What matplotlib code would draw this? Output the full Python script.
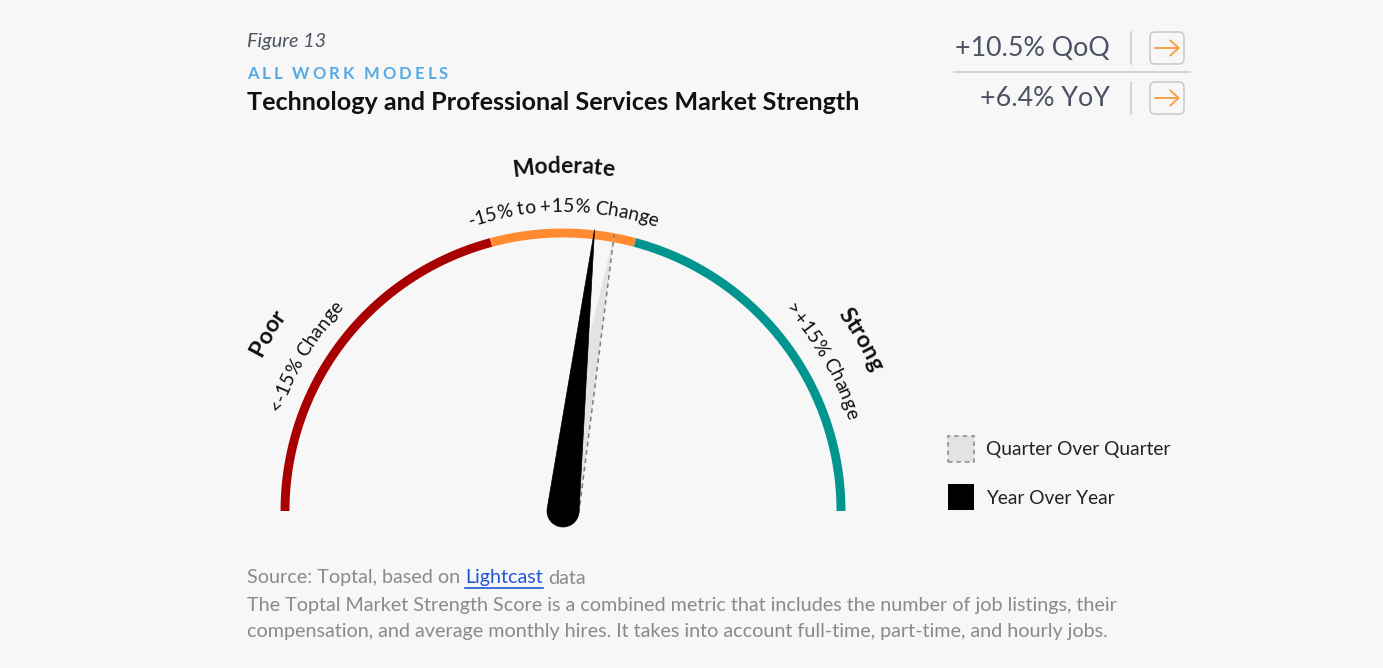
import numpy as np
import matplotlib
matplotlib.use("Agg")
import matplotlib.pyplot as plt
from matplotlib.patches import Polygon, FancyBboxPatch, Rectangle
from matplotlib.font_manager import FontProperties, findfont, get_font
from matplotlib.ft2font import LoadFlags

W, H = 1383, 668
FONT = "Lato"
BG = "#f7f7f7"

# gauge scale in percent change, and its three bands
GAUGE_MIN, GAUGE_MAX = -90, 90
BAND_EDGES = [-90, -15, 15, 90]
BAND_COLORS = ["#a80000", "#ff8a30", "#00958e"]
BAND_NAMES = ["Poor", "Moderate", "Strong"]
BAND_RANGES = ["<-15% Change", "-15% to +15% Change", ">+15% Change"]

QOQ = 10.5
YOY = 6.4
LEGEND_LABELS = ["Quarter Over Quarter", "Year Over Year"]

fig = plt.figure(figsize=(W / 100, H / 100), dpi=100, facecolor=BG)
ax = fig.add_axes([0, 0, 1, 1])
ax.set_xlim(0, W)
ax.set_ylim(0, H)
ax.set_facecolor(BG)
ax.axis("off")


def Y(y):
    # layout positions measured from the top edge
    return H - y


def advances(s, fp):
    """Left edge of each glyph (pixels) and the total advance width."""
    font = get_font(findfont(fp))
    font.set_size(fp.get_size_in_points(), 100)
    xs, x = [], 0.0
    for ch in s:
        xs.append(x)
        g = font.load_char(ord(ch), flags=LoadFlags.NO_HINTING)
        x += g.linearHoriAdvance / 65536
    return xs, x


def val_to_deg(v):
    return 180 - (v - GAUGE_MIN) / (GAUGE_MAX - GAUGE_MIN) * 180


CX, CY = 563, Y(511)
R_ARC = 278


def curved_text(s, radius, mid_deg, size, weight="normal", color="#111111"):
    fp = FontProperties(family=FONT, size=size, weight=weight)
    xs, total = advances(s, fp)
    xs = xs + [total]
    for i, ch in enumerate(s):
        if ch == " ":
            continue
        c = (xs[i] + xs[i + 1]) / 2 - total / 2
        th = np.radians(mid_deg) - c / radius
        ax.text(CX + radius * np.cos(th), CY + radius * np.sin(th), ch,
                fontproperties=fp, color=color, rotation=np.degrees(th) - 90,
                rotation_mode="anchor", ha="center", va="baseline")


def needle_poly(value, length, base_r):
    phi = np.radians(val_to_deg(value))
    tip = (CX + length * np.cos(phi), CY + length * np.sin(phi))
    a = np.arccos(base_r / length)
    back = np.linspace(phi + a, phi + 2 * np.pi - a, 60)
    pts = [tip] + [(CX + base_r * np.cos(t), CY + base_r * np.sin(t)) for t in back]
    right_tan = (CX + base_r * np.cos(phi - a), CY + base_r * np.sin(phi - a))
    return np.array(pts), tip, right_tan


# ── gauge bands ────────────────────────────────────────────────────────────
for lo, hi, col in zip(BAND_EDGES[:-1], BAND_EDGES[1:], BAND_COLORS):
    t = np.radians(np.linspace(val_to_deg(lo), val_to_deg(hi), 200))
    ax.plot(CX + R_ARC * np.cos(t), CY + R_ARC * np.sin(t), color=col,
            lw=6.4, solid_capstyle="butt", zorder=2)

# band labels along the arc
for name, rng, ang in zip(BAND_NAMES, BAND_RANGES, [149, 90, 30]):
    curved_text(name, 338, ang, 16.5, weight="bold", color="#111111")
    curved_text(rng, 299, ang, 13.8, color="#111111")

# ── needles ───────────────────────────────────────────────────────────────
pts, tip, rt = needle_poly(QOQ, 281, 16)
ax.add_patch(Polygon(pts, closed=True, facecolor="#e3e3e3", edgecolor="none", zorder=3))
ax.plot([rt[0], tip[0]], [rt[1], tip[1]], color="#7d7d7d", lw=1.1,
        dashes=(3, 2.5), zorder=3.5)

pts, tip, rt = needle_poly(YOY, 283, 16)
ax.add_patch(Polygon(pts, closed=True, facecolor="black", edgecolor="black",
                     lw=0.5, zorder=4))

# ── legend ────────────────────────────────────────────────────────────────
ax.add_patch(Rectangle((948, Y(462)), 26, 26, facecolor="#e3e3e3",
                       edgecolor="#8a8a8a", lw=1.1, linestyle=(0, (3, 2.5)), zorder=3))
ax.add_patch(Rectangle((948, Y(510)), 26, 26, facecolor="black", edgecolor="none", zorder=3))
for lab, yy in zip(LEGEND_LABELS, [450, 498]):
    ax.text(986, Y(yy), lab, family=FONT, fontsize=13.8, color="#222222",
            ha="left", va="center")

# ── header ────────────────────────────────────────────────────────────────
ax.text(247, Y(41), "Figure 13", family=FONT, style="italic", fontsize=14.3,
        color="#4d5563", ha="left", va="center")

fp_kick = FontProperties(family=FONT, size=12, weight="bold")
kicker = "ALL WORK MODELS"
kx, _ = advances(kicker, fp_kick)
for i, ch in enumerate(kicker):
    if ch != " ":
        ax.text(247 + kx[i] + i * 3.0, Y(74), ch, fontproperties=fp_kick,
                color="#55aae6", ha="left", va="center")

ax.text(247, Y(103), "Technology and Professional Services Market Strength",
        family=FONT, weight="bold", fontsize=18.1, color="#111111",
        ha="left", va="center")

# change summary, top right
for lab, yy in zip([f"+{QOQ}% QoQ", f"+{YOY}% YoY"], [48, 98]):
    ax.text(1110, Y(yy), lab, family=FONT, fontsize=19.3, color="#4b5263",
            ha="right", va="center")
    ax.plot([1131, 1131], [Y(yy - 16), Y(yy + 16)], color="#c9ccd2", lw=1.2)
    ax.add_patch(FancyBboxPatch((1153, Y(yy + 13)), 28, 26,
                                boxstyle="round,pad=3,rounding_size=5",
                                facecolor=BG, edgecolor="#c8c8c8", lw=1.1))
    ax.annotate("", xy=(1180, Y(yy)), xytext=(1155, Y(yy)),
                arrowprops=dict(arrowstyle="->,head_length=0.6,head_width=0.55",
                                color="#f5a047", lw=1.4, shrinkA=0, shrinkB=0))
ax.plot([954, 1190], [Y(72), Y(72)], color="#c9ccd2", lw=1.2)

# ── source / note ──────────────────────────────────────────────────────────
fp_src = FontProperties(family=FONT, size=14.2)
grey = "#8a8a8a"
blue = "#1f56d6"
src = "Source: Toptal, based on Lightcast data"
link = "Lightcast"
sx, stot = advances(src, fp_src)
i0 = src.index(link)
i1 = i0 + len(link)
ax.text(247, Y(578), src[:i0].rstrip(), fontproperties=fp_src, color=grey,
        ha="left", va="center")
ax.text(247 + sx[i0], Y(578), link, fontproperties=fp_src, color=blue,
        ha="left", va="center")
ax.plot([247 + sx[i0], 247 + sx[i1]], [Y(588), Y(588)], color=blue, lw=1.2)
ax.text(247 + sx[i1 + 1], Y(578), src[i1 + 1:], fontproperties=fp_src,
        color=grey, ha="left", va="center")

note = ["The Toptal Market Strength Score is a combined metric that includes the number of job listings, their",
        "compensation, and average monthly hires. It takes into account full-time, part-time, and hourly jobs."]
for line, yy in zip(note, [605, 631]):
    ax.text(247, Y(yy), line, fontproperties=fp_src, color=grey, ha="left", va="center")

fig.savefig("out.png", dpi=100, facecolor=BG)
